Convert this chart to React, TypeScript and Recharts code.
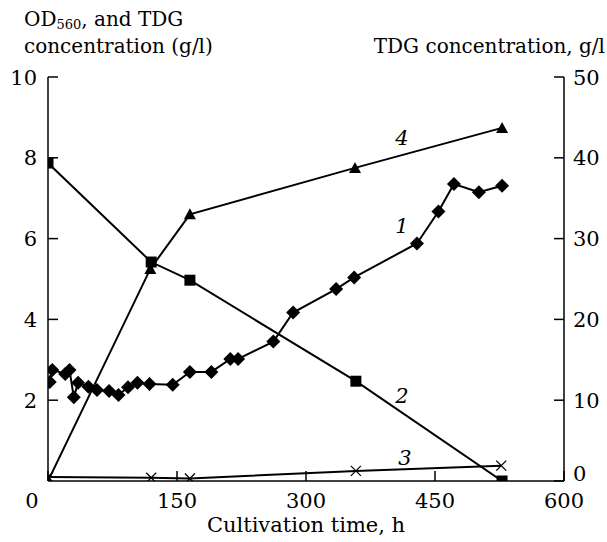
import React from 'react';
import { LineChart, Line, XAxis, YAxis } from 'recharts';

// series 1: OD560 (diamonds)
const series1 = [
  { h: 2, v: 2.45 }, { h: 5, v: 2.75 }, { h: 20, v: 2.65 }, { h: 25, v: 2.75 },
  { h: 30, v: 2.07 }, { h: 35, v: 2.43 }, { h: 47, v: 2.33 }, { h: 57, v: 2.25 },
  { h: 71, v: 2.23 }, { h: 82, v: 2.13 }, { h: 93, v: 2.32 }, { h: 104, v: 2.43 },
  { h: 118, v: 2.4 }, { h: 145, v: 2.38 }, { h: 165, v: 2.7 }, { h: 190, v: 2.7 },
  { h: 212, v: 3.02 }, { h: 221, v: 3.02 }, { h: 262, v: 3.45 }, { h: 285, v: 4.17 },
  { h: 335, v: 4.75 }, { h: 356, v: 5.04 }, { h: 429, v: 5.88 }, { h: 454, v: 6.67 },
  { h: 472, v: 7.35 }, { h: 501, v: 7.15 }, { h: 528, v: 7.31 },
];
// series 2: squares
const series2 = [
  { h: 0, v: 7.87 }, { h: 120, v: 5.42 }, { h: 165, v: 4.97 }, { h: 358, v: 2.47 }, { h: 528, v: 0 },
];
// series 3: crosses
const series3 = [
  { h: 0, v: 0.1 }, { h: 120, v: 0.08 }, { h: 165, v: 0.06 }, { h: 358, v: 0.25 }, { h: 527, v: 0.38 },
];
// series 4: triangles
const series4 = [
  { h: 0, v: 0 }, { h: 119, v: 5.25 }, { h: 165, v: 6.6 }, { h: 357, v: 7.75 }, { h: 528, v: 8.74 },
];

const xTicks = [0, 150, 300, 450, 600];
const leftTicks = [2, 4, 6, 8, 10];
const rightTicks = [0, 10, 20, 30, 40, 50];

const FONT = 'DejaVu Serif';

const Diamond = ({ cx, cy }: any) => (
  <polygon points={`${cx},${cy - 7} ${cx + 7},${cy} ${cx},${cy + 7} ${cx - 7},${cy}`} fill="#000" />
);
const Square = ({ cx, cy }: any) => <rect x={cx - 5.5} y={cy - 5.5} width={11} height={11} fill="#000" />;
const Triangle = ({ cx, cy }: any) => (
  <polygon points={`${cx},${cy - 6} ${cx + 6},${cy + 5} ${cx - 6},${cy + 5}`} fill="#000" />
);
const Cross = ({ cx, cy }: any) => (
  <g stroke="#000" strokeWidth={1.3}>
    <line x1={cx - 5} y1={cy - 5} x2={cx + 5} y2={cy + 5} />
    <line x1={cx - 5} y1={cy + 5} x2={cx + 5} y2={cy - 5} />
  </g>
);

const XTick = ({ x, y, payload }: any) => (
  <text x={payload.value === 0 ? x - 16 : x} y={y} dy="0.71em" textAnchor="middle" fontSize={21} fontFamily={FONT} fill="#000">
    {payload.value}
  </text>
);
const LeftTick = ({ x, y, payload }: any) => (
  <text x={x} y={y} dy="0.36em" textAnchor="end" fontSize={21} fontFamily={FONT} fill="#000">
    {payload.value}
  </text>
);
const RightTick = ({ x, y, payload }: any) => (
  <text x={x} y={payload.value === 0 ? y - 8 : y} dy="0.36em" textAnchor="start" fontSize={21} fontFamily={FONT} fill="#000">
    {payload.value}
  </text>
);

const axisLine = { stroke: '#000', strokeWidth: 1.5 };
const tickLine = { stroke: '#000', strokeWidth: 1.5 };

export default function App() {
  return (
    <div style={{ position: 'absolute', left: 0, top: 0, width: 607, height: 542, background: '#fff', fontFamily: FONT }}>
      <LineChart width={607} height={542} margin={{ top: 77, right: 0, bottom: 0, left: 0 }}>
        <XAxis
          dataKey="h"
          type="number"
          domain={[0, 600]}
          ticks={xTicks}
          height={61}
          axisLine={axisLine}
          tickLine={tickLine}
          tickSize={-10}
          tickMargin={22}
          tick={<XTick />}
          allowDataOverflow
        />
        <YAxis
          yAxisId="left"
          domain={[0, 10]}
          ticks={leftTicks}
          width={48}
          axisLine={axisLine}
          tickLine={tickLine}
          tickSize={-10}
          tickMargin={21}
          tick={<LeftTick />}
          allowDataOverflow
        />
        <YAxis
          yAxisId="right"
          orientation="right"
          domain={[0, 50]}
          ticks={rightTicks}
          width={43}
          axisLine={axisLine}
          tickLine={tickLine}
          tickSize={-10}
          tickMargin={19}
          tick={<RightTick />}
          allowDataOverflow
        />
        <Line yAxisId="left" data={series3} dataKey="v" type="linear" stroke="#000" strokeWidth={2}
          dot={(p: any) => <Cross key={`c${p.index}`} cx={p.cx} cy={p.cy} />} isAnimationActive={false} />
        <Line yAxisId="left" data={series2} dataKey="v" type="linear" stroke="#000" strokeWidth={2}
          dot={(p: any) => <Square key={`s${p.index}`} cx={p.cx} cy={p.cy} />} isAnimationActive={false} />
        <Line yAxisId="left" data={series4} dataKey="v" type="linear" stroke="#000" strokeWidth={2}
          dot={(p: any) => <Triangle key={`t${p.index}`} cx={p.cx} cy={p.cy} />} isAnimationActive={false} />
        <Line yAxisId="left" data={series1} dataKey="v" type="linear" stroke="#000" strokeWidth={2}
          dot={(p: any) => <Diamond key={`d${p.index}`} cx={p.cx} cy={p.cy} />} isAnimationActive={false} />
      </LineChart>
      <svg width={607} height={542} style={{ position: 'absolute', left: 0, top: 0, pointerEvents: 'none' }}
        fill="#000" fontFamily={FONT}>
        <text x={24} y={26} fontSize={20}>
          OD<tspan fontSize={13} dy={3}>560</tspan><tspan dy={-3}>, and TDG</tspan>
        </text>
        <text x={24} y={53} fontSize={20}>concentration (g/l)</text>
        <text x={605} y={53} fontSize={20} textAnchor="end">TDG concentration, g/l</text>
        <text x={306} y={532} fontSize={21} textAnchor="middle">Cultivation time, h</text>
        <text x={402} y={145} fontSize={21} fontStyle="italic" textAnchor="middle">4</text>
        <text x={402} y={233} fontSize={21} fontStyle="italic" textAnchor="middle">1</text>
        <text x={402} y={403} fontSize={21} fontStyle="italic" textAnchor="middle">2</text>
        <text x={405} y={465} fontSize={21} fontStyle="italic" textAnchor="middle">3</text>
      </svg>
    </div>
  );
}
